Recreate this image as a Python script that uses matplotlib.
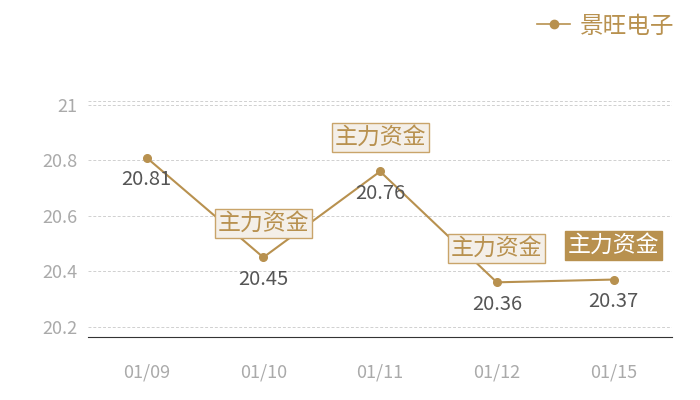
import matplotlib
matplotlib.use("Agg")
import matplotlib.pyplot as plt
from matplotlib.lines import Line2D

plt.rcParams['font.family'] = ['Noto Sans CJK SC', 'DejaVu Sans']

dates = ["01/09", "01/10", "01/11", "01/12", "01/15"]
prices = [20.81, 20.45, 20.76, 20.36, 20.37]
flags = [None, "主力资金", "主力资金", "主力资金", "主力资金"]
flag_filled = [False, False, False, False, True]
series_name = "景旺电子"
yticks = [20.2, 20.4, 20.6, 20.8, 21]

gold = "#b8914f"
x = list(range(len(dates)))

fig = plt.figure(figsize=(7, 4), dpi=100)
ax = fig.add_axes([0.126, 0.157, 0.834, 0.591])

ax.plot(x, prices, color=gold, lw=1.5, marker="o", ms=5.5, zorder=3)
ax.set_xlim(-0.5, len(dates) - 0.5)
ax.set_ylim(20.162, 21.015)
ax.set_yticks(yticks)
ax.set_yticklabels(["20.2", "20.4", "20.6", "20.8", "21"])
ax.set_xticks(x)
ax.set_xticklabels(dates)
ax.grid(axis="y", color="#d0d0d0", ls=(0, (3, 2)), lw=0.7)
ax.axhline(21.015, color="#d0d0d0", ls=(0, (3, 2)), lw=0.7)
for s in ["top", "right", "left"]:
    ax.spines[s].set_visible(False)
ax.spines["bottom"].set_color("#333333")
ax.tick_params(axis="both", length=0, colors="#aaaaaa", labelsize=13)
ax.tick_params(axis="x", pad=19)
ax.tick_params(axis="y", pad=8)

for xi, v, f, filled in zip(x, prices, flags, flag_filled):
    ax.annotate(f"{v:.2f}", (xi, v), xytext=(0, -16), textcoords="offset points",
                ha="center", va="center", fontsize=14.5, color="#555555")
    if f:
        if filled:
            bb = dict(boxstyle="square,pad=0.12", fc=gold, ec=gold, lw=1)
            tc = "white"
        else:
            bb = dict(boxstyle="square,pad=0.12", fc="#f4efe8", ec="#c9a46a", lw=1)
            tc = gold
        ax.annotate(f, (xi, v), xytext=(0, 24.5), textcoords="offset points",
                    ha="center", va="center", fontsize=16.5, color=tc, bbox=bb, zorder=5)

h = Line2D([], [], color=gold, lw=1.2, marker="o", ms=6)
fig.legend([h], [series_name], loc="upper right", bbox_to_anchor=(0.987, 1.005),
           frameon=False, fontsize=17, labelcolor=gold, handlelength=1.4,
           handletextpad=0.4, borderaxespad=0.3)

fig.savefig("out.png")
